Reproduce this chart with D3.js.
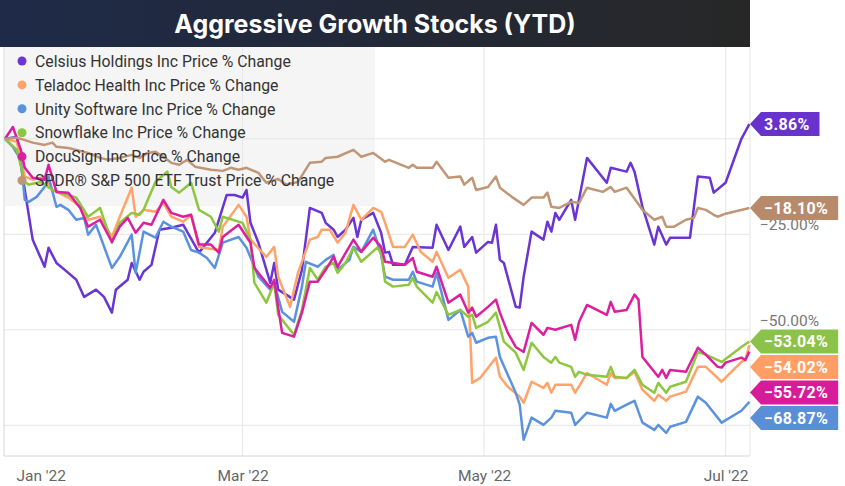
<!DOCTYPE html>
<html>
<head>
<meta charset="utf-8">
<script src="https://cdn.jsdelivr.net/npm/d3@7"></script>
<style>
  body { margin: 0; background: #fff; }
  svg { display: block; font-family: Roboto, "Noto Sans", sans-serif; }
</style>
</head>
<body>
<div id="chart"></div>
<script>
// days counted from Jan 1 2022 (-1 = Dec 31 2021), values = YTD price % change
const celsiusDays = [-1, 2, 4, 6, 9, 10, 12, 15, 17, 19, 22, 24, 26, 27, 30, 31, 33, 34, 36, 38, 41, 44, 48, 52, 55, 57, 59, 60, 61, 63, 66, 67, 68, 72, 74, 76, 79, 80, 82, 83, 85, 87, 88, 89, 92, 94, 95, 96, 97, 100, 102, 107, 108, 111, 114, 115, 117, 118, 121, 122, 123, 124, 125, 128, 129, 130, 132, 135, 136, 137, 138, 139, 142, 143, 146, 151, 152, 156, 157, 158, 160, 163, 164, 166, 167, 172, 174, 177, 178, 181, 185, 187];
const celsiusPct = [0, 0.5, -13.4, -26.4, -33.5, -28.5, -32.5, -35.1, -36.9, -41.4, -39.5, -41.4, -45.5, -39.5, -36.9, -32.5, -36.9, -34.8, -33.0, -23.8, -23.3, -22.5, -29.8, -24.6, -14.7, -14.7, -15.4, -13.4, -22.0, -27.2, -37.7, -32.5, -39.5, -42.1, -34.3, -18.1, -19.4, -22.0, -23.8, -25.7, -23.8, -20.7, -25.7, -21.2, -19.4, -24.6, -29.8, -29.6, -33.0, -33.0, -28.3, -28.5, -22.5, -29.1, -23.0, -28.3, -25.7, -29.8, -27.0, -27.2, -22.5, -31.7, -32.5, -44.0, -44.2, -36.1, -24.3, -26.4, -21.7, -24.3, -19.4, -21.2, -16.0, -21.2, -5.0, -11.5, -7.6, -8.6, -6.3, -8.6, -17.8, -27.7, -23.0, -27.7, -25.9, -25.9, -9.9, -10.2, -14.1, -11.5, 0, 3.86];

const teladocDays = [-1, 2, 4, 6, 9, 11, 15, 18, 20, 23, 26, 28, 31, 32, 34, 37, 39, 41, 44, 46, 48, 49, 53, 54, 58, 60, 61, 65, 67, 68, 71, 73, 76, 78, 79, 81, 83, 85, 87, 89, 92, 94, 95, 97, 100, 102, 104, 107, 108, 111, 114, 116, 117, 119, 123, 124, 126, 129, 130, 132, 135, 136, 137, 138, 142, 143, 146, 151, 152, 153, 156, 158, 160, 163, 164, 166, 167, 171, 174, 176, 180, 185, 186, 187];
const teladocPct = [0, -0.8, -9.9, -10.7, -9.9, -13.4, -15.4, -17.8, -21.2, -20.4, -25.7, -20.4, -12.8, -20.4, -18.6, -19.1, -16.8, -20.4, -21.7, -19.9, -28.3, -28.5, -29.1, -23.0, -17.3, -20.4, -26.4, -30.9, -28.3, -36.1, -44.0, -35.1, -26.4, -25.7, -23.8, -23.8, -27.2, -24.6, -17.3, -21.2, -18.1, -19.1, -22.0, -28.3, -28.3, -25.1, -29.6, -32.2, -29.6, -36.4, -34.3, -38.7, -63.9, -62.6, -57.3, -62.3, -64.9, -67.5, -69.1, -63.6, -65.2, -63.9, -66.5, -64.4, -64.4, -66.5, -61.3, -64.4, -61.3, -62.6, -62.6, -61.0, -65.7, -68.6, -67.0, -68.6, -67.5, -66.2, -59.7, -59.7, -63.6, -58.4, -57.9, -54.02];

const unityDays = [-1, 1, 3, 4, 5, 7, 9, 10, 12, 13, 15, 17, 19, 20, 22, 26, 28, 31, 32, 34, 37, 39, 41, 44, 46, 48, 50, 52, 54, 58, 60, 63, 66, 67, 69, 72, 74, 75, 78, 80, 82, 83, 86, 87, 89, 92, 94, 95, 97, 101, 102, 103, 107, 108, 111, 114, 116, 117, 118, 121, 123, 124, 128, 129, 130, 132, 135, 137, 138, 142, 143, 146, 151, 152, 153, 156, 158, 160, 163, 164, 166, 167, 171, 174, 176, 180, 185, 187];
const unityPct = [0, -2.1, -5.5, -16.0, -16.5, -15.2, -12.6, -9.9, -17.8, -17.3, -18.6, -21.2, -20.7, -25.1, -22.5, -33.8, -30.9, -25.1, -35.1, -24.3, -25.9, -21.7, -23.0, -24.3, -29.1, -29.8, -31.2, -33.8, -27.2, -25.7, -28.5, -36.1, -39.5, -37.7, -45.3, -47.9, -38.7, -32.2, -33.5, -31.7, -30.4, -34.3, -31.7, -28.3, -29.6, -23.8, -30.4, -36.1, -36.9, -36.9, -34.8, -37.4, -38.7, -35.1, -47.4, -44.8, -51.8, -50.8, -53.4, -52.1, -51.8, -57.1, -66.5, -69.6, -78.8, -73.0, -74.9, -73.0, -71.2, -71.7, -74.9, -71.7, -73.0, -69.4, -71.2, -69.6, -68.6, -74.3, -76.2, -74.9, -77.0, -75.4, -74.1, -67.5, -69.1, -74.3, -71.2, -68.87];

const snowflakeDays = [-1, 2, 4, 5, 8, 11, 15, 17, 20, 23, 26, 28, 31, 33, 34, 37, 40, 41, 43, 46, 48, 51, 53, 54, 59, 61, 62, 65, 67, 68, 72, 74, 76, 78, 80, 82, 83, 85, 87, 89, 93, 94, 95, 97, 101, 102, 103, 107, 108, 111, 114, 116, 117, 118, 121, 123, 125, 128, 130, 132, 135, 137, 138, 139, 142, 143, 144, 146, 151, 152, 153, 156, 158, 160, 163, 164, 166, 167, 171, 174, 176, 180, 185, 187];
const snowflakePct = [0, -2.9, -11.3, -12.0, -11.3, -13.4, -14.7, -15.4, -20.4, -18.1, -27.2, -22.0, -19.4, -19.9, -18.6, -11.3, -8.6, -12.6, -14.1, -11.5, -18.6, -20.4, -24.3, -20.4, -22.0, -26.4, -37.7, -42.9, -37.7, -46.1, -51.3, -44.8, -33.8, -36.9, -33.5, -32.5, -35.1, -32.5, -28.5, -32.2, -28.5, -29.8, -37.4, -38.7, -38.2, -36.4, -38.7, -42.9, -40.1, -46.1, -44.8, -46.6, -46.1, -49.5, -47.9, -45.5, -53.1, -56.0, -60.5, -53.4, -57.1, -58.6, -57.1, -58.6, -59.7, -62.3, -61.0, -61.8, -62.3, -59.7, -62.3, -62.6, -60.5, -64.4, -66.5, -63.9, -66.5, -64.9, -63.6, -55.8, -56.5, -58.4, -54.5, -53.04];

const docusignDays = [-1, 1, 3, 4, 6, 9, 10, 12, 15, 18, 20, 23, 26, 28, 30, 32, 34, 36, 39, 41, 44, 46, 48, 51, 53, 54, 58, 61, 62, 66, 67, 68, 69, 72, 74, 76, 78, 80, 82, 83, 87, 89, 92, 94, 95, 100, 102, 103, 107, 108, 111, 114, 116, 117, 118, 121, 123, 124, 126, 128, 130, 132, 135, 136, 138, 142, 143, 144, 146, 151, 152, 153, 156, 158, 159, 160, 164, 165, 166, 167, 171, 174, 176, 179, 180, 181, 185, 186, 187];
const docusignPct = [0, 3.1, -2.9, -7.6, -10.2, -10.7, -6.8, -13.9, -14.1, -18.1, -23.0, -21.2, -27.0, -23.0, -20.7, -24.6, -22.0, -22.5, -16.0, -19.4, -20.4, -19.9, -27.7, -27.7, -29.8, -25.7, -22.5, -27.2, -33.8, -39.0, -36.9, -44.2, -50.8, -51.8, -45.5, -37.4, -37.4, -34.3, -30.9, -33.5, -26.4, -29.6, -25.9, -28.3, -32.2, -33.0, -31.2, -34.8, -36.1, -33.5, -42.9, -40.8, -45.5, -44.2, -46.6, -44.0, -42.1, -45.5, -50.8, -54.5, -55.8, -48.2, -51.3, -49.5, -50.0, -48.7, -52.6, -47.9, -43.5, -46.1, -42.7, -45.3, -44.8, -40.8, -42.1, -57.1, -62.3, -60.5, -62.6, -60.5, -61.0, -54.7, -56.5, -59.7, -59.9, -58.6, -57.3, -57.9, -55.72];

const spyDays = [-1, 2, 6, 9, 11, 12, 15, 17, 20, 23, 25, 28, 31, 33, 35, 37, 39, 41, 43, 45, 47, 51, 54, 56, 58, 60, 63, 65, 68, 70, 73, 76, 79, 80, 83, 87, 89, 92, 95, 96, 101, 102, 103, 107, 108, 111, 114, 115, 117, 118, 121, 123, 124, 127, 130, 132, 135, 136, 137, 139, 142, 144, 146, 150, 152, 153, 156, 160, 163, 165, 166, 168, 171, 173, 174, 176, 178, 179, 181, 187];
const spyPct = [0, 0.3, -1.0, -1.6, -1.0, -2.1, -2.4, -2.9, -3.7, -5.0, -5.5, -5.0, -4.2, -5.0, -3.7, -3.4, -4.7, -6.3, -6.8, -5.5, -7.3, -8.1, -8.4, -7.6, -8.1, -7.6, -8.9, -11.5, -10.5, -12.0, -11.3, -6.3, -6.0, -5.0, -4.7, -2.9, -4.7, -3.7, -6.0, -5.5, -7.6, -6.8, -7.6, -7.6, -6.0, -10.2, -9.9, -12.0, -10.2, -13.4, -12.6, -9.9, -12.8, -15.2, -17.3, -15.4, -15.4, -14.1, -17.8, -18.1, -16.5, -16.8, -12.8, -13.9, -12.6, -13.9, -12.8, -18.6, -21.2, -20.4, -23.0, -23.0, -21.2, -20.7, -18.1, -18.6, -19.9, -20.4, -19.6, -18.1];

const seriesNames = [
  "Celsius Holdings Inc Price % Change",
  "Teladoc Health Inc Price % Change",
  "Unity Software Inc Price % Change",
  "Snowflake Inc Price % Change",
  "DocuSign Inc Price % Change",
  "SPDR® S&P 500 ETF Trust Price % Change"
];
const seriesDays = [celsiusDays, teladocDays, unityDays, snowflakeDays, docusignDays, spyDays];
const seriesPct = [celsiusPct, teladocPct, unityPct, snowflakePct, docusignPct, spyPct];
const lineColors = ["#6a35d3", "#ffa36b", "#5b92de", "#8dc63f", "#db1f9f", "#c19677"];
const tagColors = ["#6833cc", "#ff9f66", "#5a8fd8", "#8bc34a", "#d81b9b", "#b88a6c"];

const gridTicks = [0, -25, -50, -75];
// only these two labels show; the others sit behind end tags
const yLabelTicks = [-25, -50];
const xTickDates = ["2022-01-01", "2022-03-01", "2022-05-01", "2022-07-01"];
const xTickLabels = ["Jan '22", "Mar '22", "May '22", "Jul '22"];
const chartTitle = "Aggressive Growth Stocks (YTD)";

// layout
const width = 845, height = 486;
const plot = { left: 4, right: 750, top: 47, bottom: 456 };

const svg = d3.select("#chart").append("svg")
  .attr("width", width)
  .attr("height", height);

const jan1 = Date.UTC(2022, 0, 1);
const toDate = d => new Date(jan1 + d * 864e5);

const x = d3.scaleUtc()
  .domain([new Date(Date.UTC(2021, 11, 30, 18)), new Date(Date.UTC(2022, 6, 7, 4))])
  .range([plot.left, plot.right]);

const y = d3.scaleLinear()
  .domain([-83.04, 24.03])
  .range([plot.bottom, plot.top]);

// title bar
const grad = svg.append("defs").append("linearGradient")
  .attr("id", "titleGrad");
grad.append("stop").attr("offset", "0%").attr("stop-color", "#1e2a48");
grad.append("stop").attr("offset", "100%").attr("stop-color", "#272727");

svg.append("rect")
  .attr("x", 0).attr("y", 0)
  .attr("width", plot.right).attr("height", plot.top)
  .attr("fill", "url(#titleGrad)");

svg.append("text")
  .attr("x", plot.right / 2)
  .attr("y", 33)
  .attr("text-anchor", "middle")
  .attr("fill", "#fff")
  .style("font-family", "Inter, Roboto, sans-serif")
  .style("font-size", "25px")
  .style("font-weight", "700")
  .text(chartTitle);

// legend background sits under the lines
svg.append("rect")
  .attr("x", plot.left + 1).attr("y", plot.top)
  .attr("width", 370).attr("height", 159)
  .attr("fill", "#f3f3f3")
  .attr("opacity", 0.85);

// gridlines
svg.append("g")
  .selectAll("line")
  .data(gridTicks)
  .join("line")
  .attr("x1", plot.left).attr("x2", plot.right)
  .attr("y1", d => y(d)).attr("y2", d => y(d))
  .attr("stroke", "#e6e6e6");

svg.append("g")
  .selectAll("line")
  .data(xTickDates.slice(1))
  .join("line")
  .attr("x1", d => x(new Date(d))).attr("x2", d => x(new Date(d)))
  .attr("y1", plot.top).attr("y2", plot.bottom)
  .attr("stroke", "#e6e6e6");

svg.append("line")
  .attr("x1", plot.right).attr("x2", plot.right)
  .attr("y1", plot.top).attr("y2", plot.bottom)
  .attr("stroke", "#e6e6e6");

// frame: left and bottom
svg.append("path")
  .attr("d", `M${plot.left},${plot.top}V${plot.bottom}H${plot.right}`)
  .attr("fill", "none")
  .attr("stroke", "#d6d6d6");

// x axis labels
const xAxis = d3.axisBottom(x)
  .tickValues(xTickDates.map(d => new Date(d)))
  .tickFormat((d, i) => xTickLabels[i])
  .tickSize(0)
  .tickPadding(14);

const xg = svg.append("g")
  .attr("transform", `translate(0,${plot.bottom})`)
  .call(xAxis);
xg.select(".domain").remove();
xg.selectAll("text")
  .attr("fill", "#666")
  .style("font-size", "15.5px")
  .style("font-family", "Roboto, sans-serif");
// first label is kept inside the frame
xg.selectAll(".tick").filter((d, i) => i === 0).select("text")
  .attr("text-anchor", "start")
  .attr("dx", 7);

// y axis labels on the right, above each gridline
const yAxis = d3.axisRight(y)
  .tickValues(yLabelTicks)
  .tickFormat(d => d3.format(".2f")(d) + "%")
  .tickSize(0)
  .tickPadding(10);

const yg = svg.append("g")
  .attr("transform", `translate(${plot.right},0)`)
  .call(yAxis);
yg.select(".domain").remove();
yg.selectAll("text")
  .attr("fill", "#777")
  .attr("dy", "-0.3em")
  .style("font-size", "15.5px")
  .style("font-family", "Roboto, sans-serif");

// lines
const line = d3.line()
  .x(d => x(toDate(d[0])))
  .y(d => y(d[1]));

svg.append("g")
  .selectAll("path")
  .data(seriesNames.map((n, i) => seriesDays[i].map((d, j) => [d, seriesPct[i][j]])))
  .join("path")
  .attr("d", line)
  .attr("fill", "none")
  .attr("stroke", (d, i) => lineColors[i])
  .attr("stroke-width", 2.5)
  .attr("stroke-linejoin", "round");

// legend items
const legend = svg.append("g")
  .selectAll("g")
  .data(seriesNames)
  .join("g")
  .attr("transform", (d, i) => `translate(22,${61 + i * 23.9})`);

legend.append("circle")
  .attr("r", 4.5)
  .attr("fill", (d, i) => lineColors[i]);

legend.append("text")
  .attr("x", 13)
  .attr("dy", "0.36em")
  .attr("fill", "#333")
  .style("font-size", "15.8px")
  .text(d => d);

// end-value tags, pushed apart so they do not overlap
const tagH = 24, tagGap = 25.5;
const tags = seriesPct.map((p, i) => ({ i, value: p[p.length - 1], cy: y(p[p.length - 1]) }))
  .sort((a, b) => a.cy - b.cy);
for (let k = 1; k < tags.length; k++) {
  if (tags[k].cy - tags[k - 1].cy < tagGap) tags[k].cy = tags[k - 1].cy + tagGap;
}

const tagG = svg.append("g")
  .selectAll("g")
  .data(tags)
  .join("g")
  .attr("transform", d => `translate(${plot.right},${d.cy})`);

const tagText = tagG.append("text")
  .attr("x", 14)
  .attr("y", 6)
  .attr("fill", "#fff")
  .style("font-size", "16px")
  .style("font-weight", "700")
  .style("letter-spacing", "0.3px")
  .text(d => d3.format(".2f")(d.value) + "%");

tagText.each(function (d) { d.w = this.getComputedTextLength(); });

tagG.insert("path", "text")
  .attr("d", d => {
    const r = 14 + d.w + 10;
    return `M0,0L11,${-tagH / 2}H${r}V${tagH / 2}H11Z`;
  })
  .attr("fill", d => tagColors[d.i]);
</script>
</body>
</html>
